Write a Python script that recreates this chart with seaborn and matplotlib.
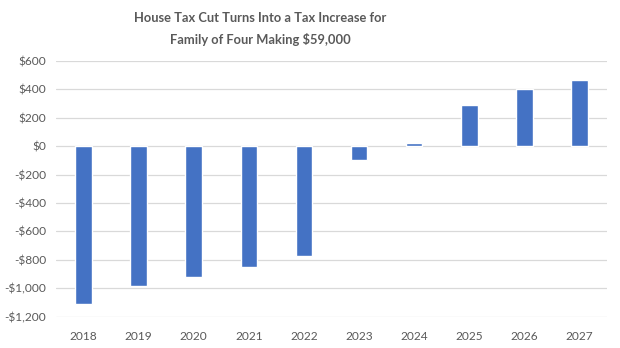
import matplotlib
matplotlib.use("Agg")
import matplotlib.pyplot as plt
import seaborn as sns
import pandas as pd

years = ["2018", "2019", "2020", "2021", "2022", "2023", "2024", "2025", "2026", "2027"]
tax_change = [-1110, -985, -920, -850, -775, -100, 20, 290, 405, 465]
y_ticks = [-1200, -1000, -800, -600, -400, -200, 0, 200, 400, 600]
y_tick_labels = ["-$1,200", "-$1,000", "-$800", "-$600", "-$400", "-$200", "$0", "$200", "$400", "$600"]
title_lines = ["House Tax Cut Turns Into a Tax Increase for", "Family of Four Making $59,000"]

sns.set_theme(style="white")
plt.rcParams["font.family"] = ["Lato", "DejaVu Sans"]

df = pd.DataFrame({"year": years, "change": tax_change})

fig = plt.figure(figsize=(6.2, 3.48), dpi=100)
ax = fig.add_axes([56 / 620, 1 - 316.7 / 348, (607 - 56) / 620, (316.7 - 61) / 348])

sns.barplot(data=df, x="year", y="change", color="#4472C4", saturation=1, width=0.30, ax=ax, zorder=3)

ax.set_ylim(-1200, 600)
ax.set_xlim(-0.5, 9.5)
ax.set_yticks(y_ticks)
ax.set_yticklabels(y_tick_labels)
ax.yaxis.grid(True, color="#D9D9D9", linewidth=0.9, zorder=0)
ax.xaxis.grid(False)
for s in ax.spines.values():
    s.set_visible(False)
ax.tick_params(axis="both", length=0, labelsize=8.6, colors="#595959")
ax.tick_params(axis="y", pad=7)
ax.tick_params(axis="x", pad=10)
ax.set_xlabel("")
ax.set_ylabel("")

fig.text(260 / 620, 1 - 18 / 348, title_lines[0], ha="center", va="center", fontsize=9.3, fontweight="bold", color="#595959")
fig.text(260 / 620, 1 - 40 / 348, title_lines[1], ha="center", va="center", fontsize=9.3, fontweight="bold", color="#595959")

fig.savefig("out.png", dpi=100)
